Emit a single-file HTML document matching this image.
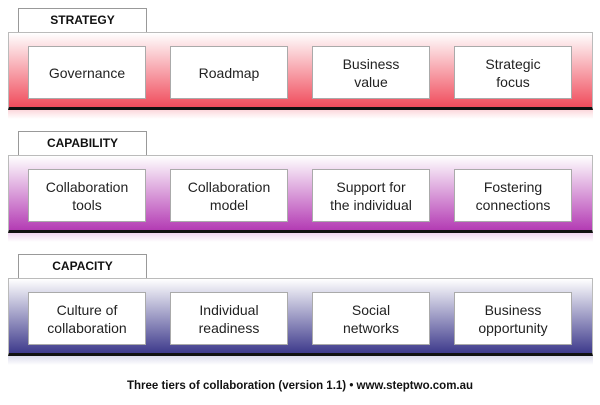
<!DOCTYPE html>
<html><head><meta charset="utf-8"><style>
body{margin:0;width:600px;height:405px;background:#fff;position:relative;overflow:hidden;font-family:"Liberation Sans","DejaVu Sans",sans-serif}
.tab{position:absolute;left:18px;width:127px;height:23px;border:1px solid #999;border-bottom:none;background:#fff;font-weight:bold;font-size:12px;text-align:center;line-height:23px;color:#111}
.band{position:absolute;left:8px;width:583px;height:74px;border:1px solid #bbb;border-bottom:3px solid #111;box-sizing:content-box}
.refl{position:absolute;left:8px;width:585px;height:9px}
.box{position:absolute;width:116px;height:51px;background:#fff;border:1px solid #aaa;display:flex;align-items:center;justify-content:center;text-align:center;font-size:14px;line-height:18px;color:#222}
.cap{position:absolute;left:0;width:600px;top:380px;text-align:center;font-weight:bold;font-size:11.5px;color:#111}
</style></head><body>
<div class="tab" style="top:8px">STRATEGY</div>
<div class="band" style="top:32px;background:linear-gradient(#fff,#f04c5c)"></div>
<div class="refl" style="top:110px;background:linear-gradient(#fcd8dc,#fff)"></div>
<div class="box" style="left:28px;top:46px">Governance</div>
<div class="box" style="left:170px;top:46px">Roadmap</div>
<div class="box" style="left:312px;top:46px">Business<br>value</div>
<div class="box" style="left:454px;top:46px">Strategic<br>focus</div>

<div class="tab" style="top:131px">CAPABILITY</div>
<div class="band" style="top:155px;background:linear-gradient(#fff,#b43cb4)"></div>
<div class="refl" style="top:233px;background:linear-gradient(#f0d4f0,#fff)"></div>
<div class="box" style="left:28px;top:169px">Collaboration<br>tools</div>
<div class="box" style="left:170px;top:169px">Collaboration<br>model</div>
<div class="box" style="left:312px;top:169px">Support for<br>the individual</div>
<div class="box" style="left:454px;top:169px">Fostering<br>connections</div>

<div class="tab" style="top:254px">CAPACITY</div>
<div class="band" style="top:278px;background:linear-gradient(#fff,#3e3a8c)"></div>
<div class="refl" style="top:356px;background:linear-gradient(#dcdcec,#fff)"></div>
<div class="box" style="left:28px;top:292px">Culture of<br>collaboration</div>
<div class="box" style="left:170px;top:292px">Individual<br>readiness</div>
<div class="box" style="left:312px;top:292px">Social<br>networks</div>
<div class="box" style="left:454px;top:292px">Business<br>opportunity</div>

<div class="cap">Three tiers of collaboration (version 1.1) • www.steptwo.com.au</div>
</body></html>
